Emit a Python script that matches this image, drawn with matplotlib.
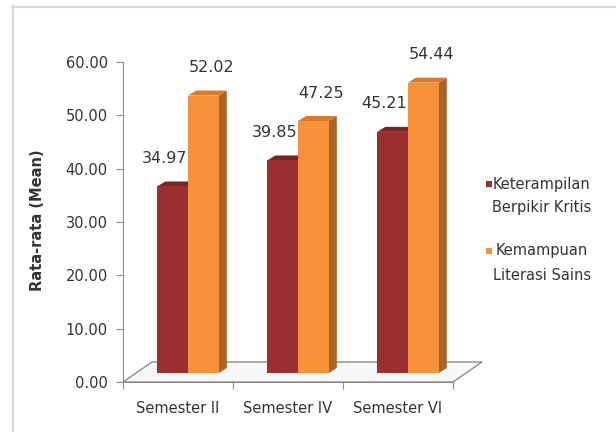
import numpy as np
import matplotlib.pyplot as plt
from matplotlib.patches import Polygon, Rectangle
from matplotlib.lines import Line2D
from matplotlib.transforms import IdentityTransform

# === DATA ===
categories = ['Semester II', 'Semester IV', 'Semester VI']
kritis = [34.97, 39.85, 45.21]      # Keterampilan Berpikir Kritis
literasi = [52.02, 47.25, 54.44]    # Kemampuan Literasi Sains
legend_lines = [['Keterampilan', 'Berpikir Kritis'], ['Kemampuan', 'Literasi Sains']]
yticks = np.arange(0, 61, 10)

# === STYLE ===
plt.rcParams['font.family'] = 'DejaVu Sans'
RED, RED_TOP, RED_SIDE = '#9b2f2f', '#7a2323', '#6a1d1d'
ORANGE, ORANGE_TOP, ORANGE_SIDE = '#f7923a', '#dd7a28', '#a8642a'
AXIS = '#8c8c8c'
TXT = '#333333'

fig = plt.figure(figsize=(6.16, 4.32), dpi=100)
W, H = 616, 432
ax = fig.add_axes([123 / W, 50 / H, 330 / W, 320 / H])
ax.set_xlim(0, 3)
ax.set_ylim(0, 60)
ax.patch.set_alpha(0)

# pixel offsets for the fake 3D look
FX, FY = 29, 20      # floor depth
BX, BY = 10, 9       # bar position inside the floor
DX, DY = 8, 5        # bar depth
w = 0.28


def px(x, y, dx=0, dy=0):
    X, Y = ax.transData.transform((x, y))
    return (X + dx, Y + dy)


def poly(pts, color, z):
    p = Polygon(pts, closed=True, facecolor=color, edgecolor='none',
                transform=IdentityTransform(), zorder=z, clip_on=False)
    fig.add_artist(p)


# floor
floor = Polygon([px(0, 0), px(3, 0), px(3, 0, FX, FY), px(0, 0, FX, FY)],
                closed=True, facecolor='#f6f7f9', edgecolor=AXIS, lw=1,
                transform=IdentityTransform(), zorder=1, clip_on=False)
fig.add_artist(floor)

x = np.arange(len(categories)) + 0.5
for i in range(len(categories)):
    for left, v, c_front, c_top, c_side in [(x[i] - w, kritis[i], RED, RED_TOP, RED_SIDE),
                                            (x[i], literasi[i], ORANGE, ORANGE_TOP, ORANGE_SIDE)]:
        right = left + w
        z = 2 + i * 0.1 + (0.05 if c_front == ORANGE else 0)
        # side face
        poly([px(right, 0, BX, BY), px(right, v, BX, BY),
              px(right, v, BX + DX, BY + DY), px(right, 0, BX + DX, BY + DY)], c_side, z)
        # top face
        poly([px(left, v, BX, BY), px(right, v, BX, BY),
              px(right, v, BX + DX, BY + DY), px(left, v, BX + DX, BY + DY)], c_top, z)
        # front face
        poly([px(left, 0, BX, BY), px(right, 0, BX, BY),
              px(right, v, BX, BY), px(left, v, BX, BY)], c_front, z + 0.01)

# value labels
for i in range(len(categories)):
    ax.annotate(f'{kritis[i]:.2f}', xy=(x[i] - w / 2, kritis[i]), xytext=(BX - 8, BY + 28),
                textcoords='offset pixels', ha='center', va='center',
                fontsize=11.5, color=TXT, annotation_clip=False)
    ax.annotate(f'{literasi[i]:.2f}', xy=(x[i] + w / 2, literasi[i]), xytext=(BX + 8, BY + 28),
                textcoords='offset pixels', ha='center', va='center',
                fontsize=11.5, color=TXT, annotation_clip=False)

# axes
for s in ['top', 'right']:
    ax.spines[s].set_visible(False)
ax.spines['left'].set_color(AXIS)
ax.spines['bottom'].set_color(AXIS)
ax.spines['bottom'].set_zorder(5)
ax.set_yticks(yticks)
ax.set_yticklabels([f'{t:.2f}' for t in yticks], fontsize=10.5, color=TXT)
ax.tick_params(axis='y', direction='out', length=5, color=AXIS, pad=6)
ax.set_xticks([0, 1, 2, 3])
ax.set_xticklabels([])
ax.set_xticks(x, minor=True)
ax.set_xticklabels(categories, minor=True, fontsize=10.5, color=TXT)
ax.tick_params(axis='x', which='major', direction='out', length=5, color=AXIS)
ax.tick_params(axis='x', which='minor', length=0, pad=14)

fig.text(38 / W, 1 - 220 / H, 'Rata-rata (Mean)', rotation=90, ha='center', va='center',
         fontsize=10.5, fontweight='bold', color=TXT)

# legend
for k, (lines, col) in enumerate(zip(legend_lines, [RED, ORANGE])):
    y0 = 184 + k * 67
    fig.add_artist(Rectangle((486 / W, 1 - (y0 + 3) / H), 6 / W, 6 / H, facecolor=col,
                             edgecolor='none', transform=fig.transFigure))
    for j, line in enumerate(lines):
        fig.text(542 / W, 1 - (y0 + j * 24) / H, line, ha='center', va='center',
                 fontsize=10.5, color=TXT)

# outer chart border (cropped)
fig.add_artist(Line2D([12.5 / W, 12.5 / W], [0, 1 - 6 / H], color='#d6d6d6', lw=1.5))
fig.add_artist(Line2D([12 / W, 1], [1 - 7 / H, 1 - 7 / H], color='#d6d6d6', lw=1.5))

plt.savefig('out.png', dpi=100)
